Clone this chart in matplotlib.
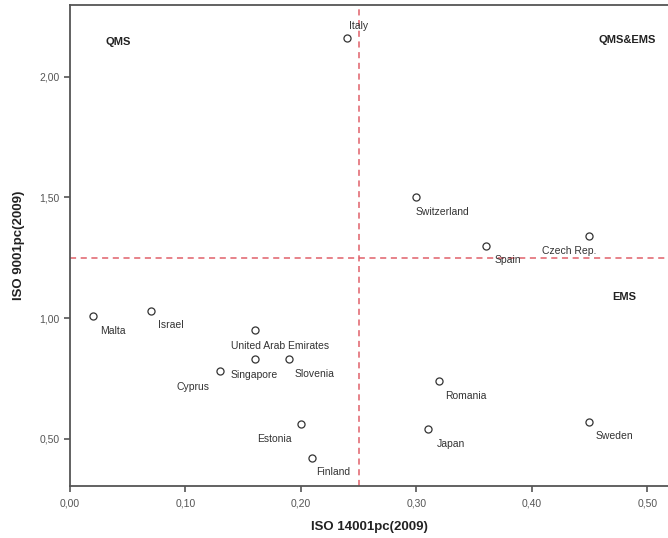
import numpy as np
import matplotlib.pyplot as plt
from matplotlib.ticker import FuncFormatter

plt.rcParams['font.family'] = ['Liberation Sans', 'DejaVu Sans']

# data
countries = ["Italy", "Switzerland", "Spain", "Czech Rep.", "Malta", "Israel",
             "United Arab Emirates", "Singapore", "Slovenia", "Cyprus",
             "Estonia", "Finland", "Romania", "Japan", "Sweden"]
iso14001 = [0.24, 0.30, 0.36, 0.45, 0.02, 0.07, 0.16, 0.16, 0.19, 0.13,
            0.20, 0.21, 0.32, 0.31, 0.45]
iso9001 = [2.16, 1.50, 1.30, 1.34, 1.01, 1.03, 0.95, 0.83, 0.83, 0.78,
           0.56, 0.42, 0.74, 0.54, 0.57]
x_cut = 0.25
y_cut = 1.25
quadrants = ["QMS", "QMS&EMS", "EMS"]

# label offsets in pixels (dx, dy)
offsets = [(11, 12), (26, -15), (22, -14), (-20, -15), (20, -15), (20, -14),
           (25, -16), (-1, -16), (25, -15), (-27, -16), (-27, -15), (21, -14),
           (26, -15), (23, -15), (25, -14)]
quad_pos = [(0.042, 2.145), (0.483, 2.153), (0.48, 1.087)]

fig = plt.figure(figsize=(6.68, 5.38), dpi=100)
ax = fig.add_axes([0.1048, 0.0967, 0.8952, 0.894])

ax.scatter(iso14001, iso9001, s=26, facecolors='white', edgecolors='#333333',
           linewidths=0.9, zorder=3)
for name, x, y, off in zip(countries, iso14001, iso9001, offsets):
    ax.annotate(name, (x, y), xytext=off, textcoords='offset pixels',
                ha='center', va='center', fontsize=7.5, color='#333333')

ax.axvline(x_cut, color='#e0606a', linestyle=(0, (4, 3)), linewidth=1.1)
ax.axhline(y_cut, color='#e0606a', linestyle=(0, (4, 3)), linewidth=1.1)

for q, (qx, qy) in zip(quadrants, quad_pos):
    ax.text(qx, qy, q, ha='center', va='center', fontsize=8, fontweight='bold',
            color='#222222')

ax.set_xlim(0, 0.518)
ax.set_ylim(0.305, 2.297)
ax.set_xticks([0, 0.1, 0.2, 0.3, 0.4, 0.5])
ax.set_yticks([0.5, 1.0, 1.5, 2.0])
comma = FuncFormatter(lambda v, p: f"{v:.2f}".replace('.', ','))
ax.xaxis.set_major_formatter(comma)
ax.yaxis.set_major_formatter(comma)
ax.tick_params(labelsize=7.5, colors='#555555', length=4, width=1.2, direction='out')
ax.tick_params(axis='x', pad=5)

for side in ['left', 'bottom', 'top']:
    ax.spines[side].set_color('#555555')
    ax.spines[side].set_linewidth(1.3)
ax.spines['right'].set_visible(False)

ax.set_xlabel("ISO 14001pc(2009)", fontsize=9.5, fontweight='bold', color='#222222',
              labelpad=9)
ax.set_ylabel("ISO 9001pc(2009)", fontsize=9.5, fontweight='bold', color='#222222',
              labelpad=10)

fig.savefig("out.png", dpi=100)
